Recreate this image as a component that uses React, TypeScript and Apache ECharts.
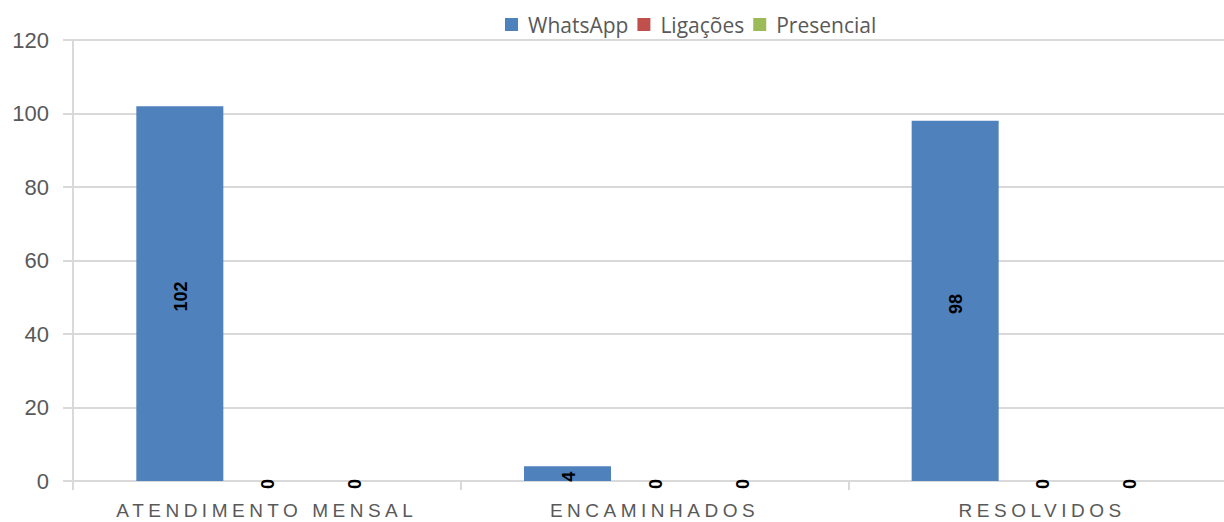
import React, { useEffect, useRef } from "react";
import * as echarts from "echarts";

const categories = ["ATENDIMENTO MENSAL", "ENCAMINHADOS", "RESOLVIDOS"];
const whatsapp = [102, 4, 98];
const ligacoes = [0, 0, 0];
const presencial = [0, 0, 0];
const seriesNames = ["WhatsApp", "Ligações", "Presencial"];
const colors = ["#4f81bd", "#c0504d", "#9bbb59"];

export default function App() {
  const ref = useRef<HTMLDivElement>(null);
  useEffect(() => {
    if (!ref.current) return;
    const chart = echarts.init(ref.current, null, { renderer: "svg" });
    const label = {
      show: true,
      position: "inside",
      rotate: 90,
      color: "#000",
      fontWeight: "bold",
      fontSize: 18,
      offset: [-3, 1],
      fontFamily: "Liberation Sans, Arial, sans-serif",
    };
    const mk = (name: string, data: number[], color: string) => ({
      name,
      type: "bar",
      data,
      barWidth: 87,
      barGap: "0%",
      itemStyle: { color },
      label,
    });
    chart.setOption({
      animation: false,
      color: colors,
      legend: {
        left: 500,
        top: 9,
        itemWidth: 13,
        itemHeight: 13,
        itemGap: 9,
        icon: "rect",
        textStyle: {
          color: "#595959",
          fontSize: 21,
          fontFamily: "Open Sans, sans-serif",
          padding: [0, 0, 0, 5],
        },
        data: seriesNames,
      },
      grid: { left: 73, right: 0, top: 40, bottom: 41, outerBoundsMode: "none" },
      xAxis: {
        type: "category",
        data: categories,
        axisLine: { lineStyle: { color: "#d9d9d9", width: 2 } },
        axisTick: { show: true, length: 9, lineStyle: { color: "#d9d9d9", width: 2 } },
        axisLabel: {
          color: "#595959",
          fontSize: 19,
          fontFamily: "Liberation Sans, Arial, sans-serif",
          margin: 20,
        },
      },
      yAxis: {
        type: "value",
        min: 0,
        max: 120,
        interval: 20,
        axisLine: { show: true, lineStyle: { color: "#d9d9d9", width: 2 } },
        axisTick: { show: true, length: 10, lineStyle: { color: "#d9d9d9", width: 2 } },
        splitLine: { lineStyle: { color: "#d9d9d9", width: 2 } },
        axisLabel: {
          color: "#595959",
          fontSize: 22,
          fontFamily: "Liberation Sans, Arial, sans-serif",
          margin: 24,
        },
      },
      series: [
        mk(seriesNames[0], whatsapp, colors[0]),
        mk(seriesNames[1], ligacoes, colors[1]),
        mk(seriesNames[2], presencial, colors[2]),
      ],
    });
    const applySpacing = () => {
      const el = ref.current;
      if (!el) return;
      el.querySelectorAll("text").forEach((t) => {
        if (categories.includes((t.textContent || "").trim())) {
          (t as SVGTextElement).style.letterSpacing = "4.5px";
        }
      });
    };
    chart.on("rendered", applySpacing);
    applySpacing();
    const tm = setTimeout(applySpacing, 50);
    return () => {
      clearTimeout(tm);
      chart.dispose();
    };
  }, []);
  return (
    <div style={{ position: "fixed", left: 0, top: 0, width: 1224, height: 522, overflow: "hidden", background: "#fff" }}>
      <div ref={ref} style={{ width: 1236, height: 522 }} />
    </div>
  );
}
